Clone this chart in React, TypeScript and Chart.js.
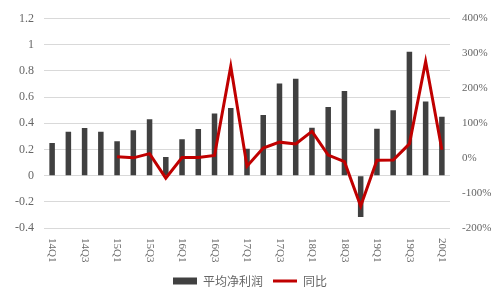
import { useEffect, useRef } from "react";
import { Chart, registerables } from "chart.js";

Chart.register(...registerables);

const categories = [
  "14Q1", "14Q2", "14Q3", "14Q4",
  "15Q1", "15Q2", "15Q3", "15Q4",
  "16Q1", "16Q2", "16Q3", "16Q4",
  "17Q1", "17Q2", "17Q3", "17Q4",
  "18Q1", "18Q2", "18Q3", "18Q4",
  "19Q1", "19Q2", "19Q3", "19Q4",
  "20Q1",
];

const avgProfit = [
  0.25, 0.335, 0.365, 0.335,
  0.263, 0.346, 0.43, 0.143,
  0.278, 0.356, 0.474, 0.516,
  0.205, 0.464, 0.704, 0.74,
  0.366, 0.524, 0.647, -0.316,
  0.358, 0.5, 0.947, 0.566,
  0.451,
];

const yoyPct = [
  null, null, null, null,
  4, 1, 13, -57,
  2, 2, 8, 263,
  -23, 29, 46, 41,
  77, 9, -10, -137,
  -6, -5, 41, 277,
  24,
];

const seriesNames = ["平均净利润", "同比"];

const leftMin = -0.4;
const leftMax = 1.2;
const leftStep = 0.2;
const rightMin = -200;
const rightMax = 400;
const rightStep = 100;

const BAR_COLOR = "#404040";
const LINE_COLOR = "#c00000";
const TEXT_COLOR = "#666666";
const GRID_COLOR = "#d9d9d9";

const xLabelPlugin = {
  id: "xLabelsClockwise",
  afterDraw(chart: any) {
    const x = chart.scales.x;
    const ctx = chart.ctx;
    ctx.save();
    ctx.fillStyle = TEXT_COLOR;
    ctx.font = "11px 'Liberation Serif', serif";
    ctx.textAlign = "left";
    ctx.textBaseline = "middle";
    const top = chart.chartArea.bottom + 10;
    categories.forEach((lab, i) => {
      if (i % 2 !== 0) return;
      const px = x.getPixelForValue(i);
      ctx.save();
      ctx.translate(px, top);
      ctx.rotate(Math.PI / 2);
      ctx.fillText(lab, 0, 0);
      ctx.restore();
    });
    ctx.restore();
  },
};

export default function App() {
  const ref = useRef<HTMLCanvasElement | null>(null);

  useEffect(() => {
    document.body.style.margin = "0";
    const chart = new Chart(ref.current as HTMLCanvasElement, {
      type: "bar",
      data: {
        labels: categories,
        datasets: [
          {
            type: "bar",
            label: seriesNames[0],
            data: avgProfit,
            backgroundColor: BAR_COLOR,
            yAxisID: "y",
            barPercentage: 0.34,
            categoryPercentage: 1,
            order: 1,
          },
          {
            type: "line",
            label: seriesNames[1],
            data: yoyPct as any,
            borderColor: LINE_COLOR,
            backgroundColor: LINE_COLOR,
            borderWidth: 3,
            pointRadius: 0,
            tension: 0,
            yAxisID: "y1",
            order: 0,
          } as any,
        ],
      },
      options: {
        animation: false,
        responsive: false,
        maintainAspectRatio: false,
        layout: { padding: { top: 11, bottom: 3, left: 0, right: 0 } },
        plugins: {
          tooltip: { enabled: false },
          legend: {
            position: "bottom",
            labels: {
              usePointStyle: true,
              pointStyleWidth: 24,
              boxHeight: 7,
              color: TEXT_COLOR,
              padding: 10,
              font: { family: "'Noto Sans CJK SC', sans-serif", size: 12 },
              generateLabels: () => [
                {
                  text: seriesNames[0],
                  fillStyle: BAR_COLOR,
                  strokeStyle: BAR_COLOR,
                  lineWidth: 0,
                  pointStyle: "rect",
                  datasetIndex: 0,
                  hidden: false,
                  fontColor: TEXT_COLOR,
                },
                {
                  text: seriesNames[1],
                  fillStyle: LINE_COLOR,
                  strokeStyle: LINE_COLOR,
                  lineWidth: 3,
                  pointStyle: "line",
                  datasetIndex: 1,
                  hidden: false,
                  fontColor: TEXT_COLOR,
                },
              ] as any,
            },
          },
        },
        scales: {
          x: {
            offset: true,
            grid: { display: false },
            border: { display: false },
            ticks: { display: false },
            afterFit: (s: any) => {
              s.height = 37;
            },
          },
          y: {
            position: "left",
            min: leftMin,
            max: leftMax,
            grid: { color: GRID_COLOR, lineWidth: 1, drawTicks: false },
            border: { display: false },
            ticks: {
              stepSize: leftStep,
              padding: 10,
              color: TEXT_COLOR,
              font: { family: "'Liberation Serif', serif", size: 12 },
              callback: (v: any) => String(Number(Number(v).toFixed(1))),
            },
            afterFit: (s: any) => {
              s.width = 44;
            },
          },
          y1: {
            position: "right",
            min: rightMin,
            max: rightMax,
            grid: { display: false, drawTicks: false },
            border: { display: false },
            ticks: {
              stepSize: rightStep,
              padding: 12,
              color: TEXT_COLOR,
              font: { family: "'Liberation Serif', serif", size: 11 },
              callback: (v: any) => `${Math.round(Number(v))}%`,
            },
            afterFit: (s: any) => {
              s.width = 50;
            },
          },
        },
      },
      plugins: [xLabelPlugin],
    });
    return () => chart.destroy();
  }, []);

  return (
    <div style={{ position: "fixed", left: 0, top: 0, width: 500, height: 300, background: "#fff" }}>
      <canvas ref={ref} width={500} height={300} style={{ width: 500, height: 300 }} />
    </div>
  );
}
